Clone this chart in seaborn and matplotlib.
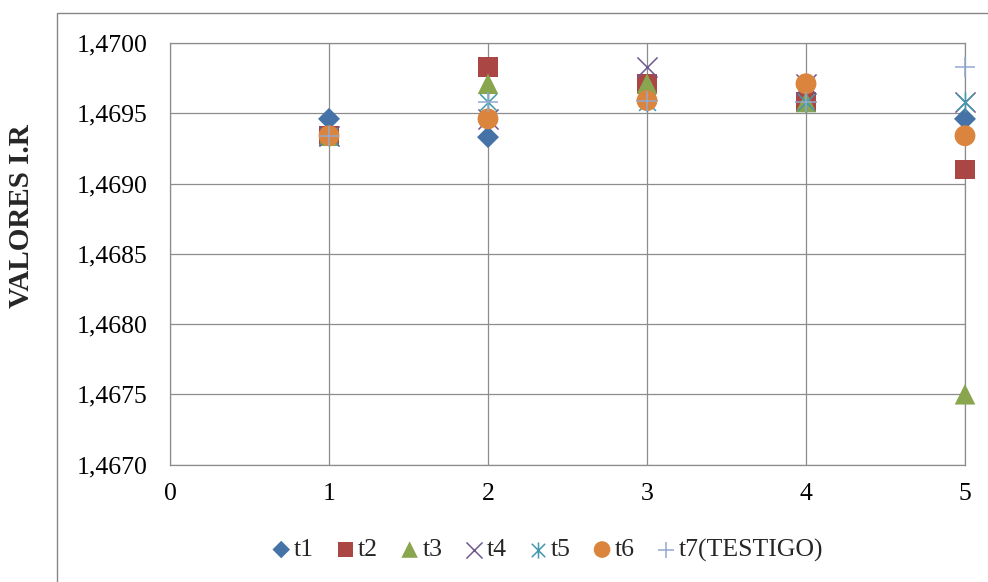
import numpy as np
import pandas as pd
import seaborn as sns
from matplotlib import pyplot as plt
from matplotlib import ticker
from matplotlib.path import Path
from matplotlib.patches import Rectangle

sns.set_style('white')
plt.rcParams['font.family'] = ['Liberation Serif', 'DejaVu Serif']

# DATA
x_vals = [1, 2, 3, 4, 5]
t1 = [1.46946, 1.46933, 1.46959, 1.46958, 1.46946]
t2 = [1.46934, 1.46983, 1.46971, 1.46958, 1.46910]
t3 = [1.46934, 1.46971, 1.46971, 1.46958, 1.46750]
t4 = [1.46934, 1.46946, 1.46983, 1.46971, 1.46958]
t5 = [1.46934, 1.46958, 1.46958, 1.46958, 1.46958]
t6 = [1.46934, 1.46946, 1.46959, 1.46971, 1.46934]
t7 = [1.46934, 1.46958, 1.46959, 1.46958, 1.46983]
series_names = ['t1', 't2', 't3', 't4', 't5', 't6', 't7(TESTIGO)']
y_ticks = [1.4670, 1.4675, 1.4680, 1.4685, 1.4690, 1.4695, 1.4700]
x_ticks = [0, 1, 2, 3, 4, 5]

# asterisco estilo excel: X + linea vertical
star = Path([(-1, -1), (1, 1), (-1, 1), (1, -1), (0, -1.2), (0, 1.2)],
            [Path.MOVETO, Path.LINETO, Path.MOVETO, Path.LINETO, Path.MOVETO, Path.LINETO])

colors = ['#4572A7', '#AA4643', '#89A54E', '#71588F', '#4198AF', '#DB843D', '#93A9CF']
markers = ['D', 's', '^', 'x', star, 'o', '+']
sizes = [125, 200, 220, 210, 210, 225, 210]
filled = [True, True, True, False, False, True, False]

df = pd.DataFrame({'x': x_vals * 7,
                   'valor': t1 + t2 + t3 + t4 + t5 + t6 + t7,
                   'serie': np.repeat(series_names, len(x_vals))})

fig = plt.figure(figsize=(9.88, 5.82), dpi=100)
ax = fig.add_axes([170/988, 1-464.5/582, 795/988, 421.5/582])

handles = []
for i, name in enumerate(series_names):
    sub = df[df['serie'] == name]
    if filled[i]:
        sns.scatterplot(data=sub, x='x', y='valor', ax=ax, marker=markers[i], s=sizes[i],
                        color=colors[i], edgecolor='none', linewidth=0, clip_on=False, zorder=3+i)
    else:
        sns.scatterplot(data=sub, x='x', y='valor', ax=ax, marker=markers[i], s=sizes[i],
                        color=colors[i], edgecolor=colors[i], linewidth=1.1,
                        clip_on=False, zorder=3+i)
    handles.append(ax.collections[-1])

ax.set_xlim(0, 5)
ax.set_ylim(1.4670, 1.4700)
ax.set_xticks(x_ticks)
ax.set_yticks(y_ticks)
ax.yaxis.set_major_formatter(ticker.FuncFormatter(lambda v, p: f'{v:.4f}'.replace('.', ',')))
ax.grid(True, color='#8c8c8c', linewidth=0.9)
ax.set_axisbelow(True)
for sp in ax.spines.values():
    sp.set_color('#8c8c8c')
    sp.set_linewidth(0.9)
ax.tick_params(axis='both', length=0, labelsize=18.5, colors='black')
ax.tick_params(axis='x', pad=13)
ax.tick_params(axis='y', pad=16)
ax.set_xlabel('')
ax.set_ylabel('')

fig.text(22/988, 1-216/582, 'VALORES I.R', rotation=90, ha='center', va='center',
         fontsize=21, fontweight='bold')

fig.legend(handles, series_names, loc='center', bbox_to_anchor=(546/988, 1-550/582),
           ncol=7, frameon=False, fontsize=18.5, markerscale=0.8,
           handletextpad=0.0, columnspacing=0.72, handlelength=1.0)

# borde del area del grafico
fig.patches.append(Rectangle((57/988, -0.05), 1.0, 1-13/582+0.05, transform=fig.transFigure,
                             fill=False, edgecolor='#878787', linewidth=1.0))

plt.savefig('out.png', dpi=100)
